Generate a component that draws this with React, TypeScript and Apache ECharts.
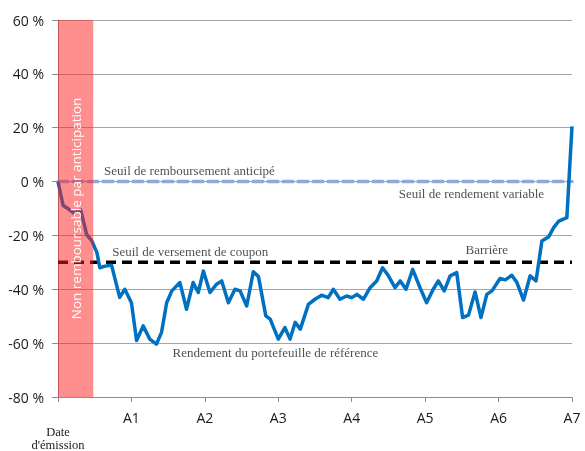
import React, { useEffect, useRef } from "react";
import * as echarts from "echarts";

const yearLabels = ["Date d'émission", "A1", "A2", "A3", "A4", "A5", "A6", "A7"];
const yTicks = { min: -80, max: 60, interval: 20 };

const perfTimes = [0, 0.07, 0.14, 0.21, 0.31, 0.39, 0.46, 0.53, 0.57, 0.64, 0.73, 0.84, 0.91, 1.0, 1.07, 1.16, 1.25, 1.34, 1.41, 1.48, 1.55, 1.66, 1.75, 1.84, 1.91, 1.98, 2.07, 2.16, 2.23, 2.32, 2.41, 2.48, 2.57, 2.66, 2.73, 2.83, 2.89, 3.0, 3.09, 3.16, 3.23, 3.3, 3.41, 3.5, 3.59, 3.68, 3.75, 3.84, 3.93, 4.0, 4.07, 4.16, 4.25, 4.34, 4.42, 4.5, 4.59, 4.66, 4.74, 4.83, 4.93, 5.02, 5.11, 5.18, 5.26, 5.34, 5.43, 5.51, 5.59, 5.68, 5.76, 5.84, 5.91, 6.02, 6.09, 6.18, 6.25, 6.34, 6.43, 6.51, 6.59, 6.68, 6.75, 6.82, 6.93, 7.0];
const perfValues = [0, -8.9, -10.1, -11.6, -10.6, -19.6, -22, -26.4, -32, -31.4, -31.1, -43, -40, -45, -59, -53.6, -58.5, -60.4, -56, -45, -40.6, -37.5, -47.4, -37.5, -41.2, -33.2, -41.2, -38.1, -36.9, -45, -40, -40.6, -46.2, -33.5, -35.3, -49.9, -51.1, -58.5, -54.2, -58.5, -52.3, -54.8, -45.6, -43.7, -42.2, -43.1, -40, -43.7, -42.5, -43.1, -41.9, -43.7, -39.4, -36.9, -32, -35, -39.4, -36.9, -40, -32.6, -39.4, -45, -40, -36.9, -40.6, -35, -33.8, -50.5, -49.6, -41, -50.5, -41.9, -40.6, -36, -36.5, -34.8, -37.5, -44, -35, -36.9, -22.1, -20.6, -17.1, -14.7, -13.4, 20.5];

const earlyRedemptionLevel = 0;
const couponLevel = -30;
const thresholdSpan = [0, 7];
const bandSpan = [0, 0.48];
const bandText = "Non remboursable par anticipation";

const annotationTexts = [
  "Seuil de remboursement anticipé",
  "Seuil de rendement variable",
  "Seuil de versement de coupon",
  "Barrière",
  "Rendement du portefeuille de référence",
];
const annotationX = [1.79, 5.63, 1.8, 5.84, 2.96];
const annotationY = [4.1, -4.4, -25.8, -25.4, -63.5];

export default function App() {
  const ref = useRef<HTMLDivElement>(null);
  useEffect(() => {
    if (!ref.current) return;
    const chart = echarts.init(ref.current, null, { renderer: "svg" });
    const option: any = {
      animation: false,
      grid: { left: 58, right: 13, top: 20, bottom: 53 },
      xAxis: {
        type: "value",
        min: 0,
        max: 7,
        interval: 1,
        axisLine: { show: true, onZero: false, lineStyle: { color: "#8c8c8c", width: 1 } },
        axisTick: { show: true, length: 5, lineStyle: { color: "#8c8c8c" } },
        splitLine: { show: false },
        axisLabel: {
          margin: 13,
          color: "#1a1a1a",
          fontFamily: "Open Sans",
          fontSize: 14,
          formatter: (v: number) => {
            const i = Math.round(v);
            if (i === 0) return "{e|}\n{d|Date}\n{d|d'émission}";
            return yearLabels[i] || "";
          },
          rich: {
            e: { height: 15, lineHeight: 15 },
            d: { fontFamily: "Liberation Serif", fontSize: 12.5, lineHeight: 13, color: "#1a1a1a" },
          },
        },
      },
      yAxis: {
        type: "value",
        min: yTicks.min,
        max: yTicks.max,
        interval: yTicks.interval,
        axisLine: { show: true, lineStyle: { color: "#8c8c8c", width: 1 } },
        axisTick: { show: true, length: 6, lineStyle: { color: "#8c8c8c" } },
        splitLine: { show: true, lineStyle: { color: "#a6a6a6", width: 1 } },
        axisLabel: {
          margin: 14,
          color: "#1a1a1a",
          fontFamily: "Open Sans",
          fontSize: 14,
          formatter: "{value} %",
        },
      },
      series: [
        {
          type: "line",
          z: 3,
          symbol: "none",
          data: thresholdSpan.map((x) => [x, earlyRedemptionLevel]),
          lineStyle: { color: "#8eaadb", width: 3.5, type: [10, 5], cap: "round" },
        },
        {
          type: "line",
          z: 3,
          symbol: "none",
          data: thresholdSpan.map((x) => [x, couponLevel]),
          lineStyle: { color: "#000000", width: 3.5, type: [10, 6] },
        },
        {
          type: "line",
          z: 4,
          symbol: "none",
          data: perfTimes.map((t, i) => [t, perfValues[i]]),
          lineStyle: { color: "#0070c0", width: 3.5, join: "round" },
        },
        {
          type: "custom",
          z: 6,
          data: [[bandSpan[0], bandSpan[1]]],
          encode: { x: [0, 1] },
          renderItem: (params: any, api: any) => {
            const p1 = api.coord([api.value(0), yTicks.max]);
            const p2 = api.coord([api.value(1), yTicks.min]);
            return {
              type: "group",
              children: [
                {
                  type: "rect",
                  shape: { x: p1[0], y: p1[1], width: p2[0] - p1[0], height: p2[1] - p1[1] },
                  style: { fill: "rgba(255,30,30,0.5)" },
                },
                {
                  type: "text",
                  x: (p1[0] + p2[0]) / 2,
                  y: (p1[1] + p2[1]) / 2,
                  rotation: Math.PI / 2,
                  style: {
                    text: bandText,
                    fill: "#ffffff",
                    font: "13.5px 'Open Sans'",
                    align: "center",
                    verticalAlign: "middle",
                  },
                },
              ],
            };
          },
        },
        {
          type: "scatter",
          z: 7,
          symbolSize: 0,
          data: annotationTexts.map((t, i) => ({ value: [annotationX[i], annotationY[i]], name: t })),
          label: {
            show: true,
            position: "inside",
            formatter: (p: any) => p.name,
            color: "#1f1f1f",
            fontFamily: "Liberation Serif",
            fontSize: 13,
          },
          emphasis: { disabled: true },
        },
      ],
    };
    chart.setOption(option);
    return () => chart.dispose();
  }, []);
  return <div ref={ref} style={{ position: "fixed", left: 0, top: 0, width: 585, height: 451 }} />;
}
